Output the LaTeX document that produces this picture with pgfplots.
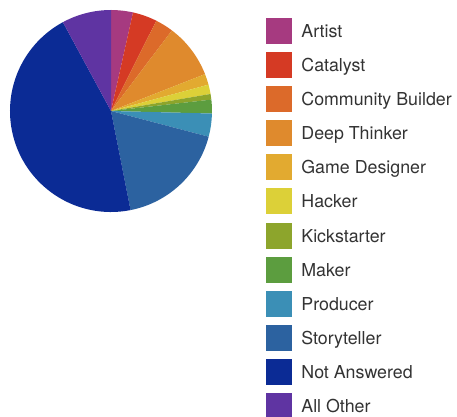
\documentclass[border=0pt]{standalone}
\usepackage{pgfplots}
\usepackage{pgfplotstable}
\pgfplotsset{compat=1.18}
\usepackage{fontspec}
\setmainfont{TeX Gyre Heros}
\definecolor{c0}{HTML}{A63A80}
\definecolor{c1}{HTML}{D53A24}
\definecolor{c2}{HTML}{DC6A2A}
\definecolor{c3}{HTML}{DF8A2D}
\definecolor{c4}{HTML}{E2AA30}
\definecolor{c5}{HTML}{DCD038}
\definecolor{c6}{HTML}{8DA52C}
\definecolor{c7}{HTML}{5C9D3F}
\definecolor{c8}{HTML}{3B8FB6}
\definecolor{c9}{HTML}{2C62A0}
\definecolor{c10}{HTML}{0B2B95}
\definecolor{c11}{HTML}{5F34A2}
\definecolor{txt}{HTML}{333333}
\pgfplotstableread{
label value
Artist 3.5
Catalyst 3.9
{Community Builder} 2.9
{Deep Thinker} 8.75
{Game Designer} 1.75
Hacker 1.5
Kickstarter 0.9
Maker 2.2
Producer 3.7
Storyteller 17.8
{Not Answered} 45.2
{All Other} 7.9
}\piedata
\newcount\k
\begin{document}
\begin{tikzpicture}
\useasboundingbox (0,0) rectangle (457bp,417bp);
\clip (0,0) rectangle (457bp,417bp);
\def\cum{0}%
\k=0
\loop
  \pgfplotstablegetelem{\the\k}{value}\of\piedata
  \pgfmathsetmacro\sa{90-3.6*\cum}%
  \pgfmathsetmacro\cum{\cum+\pgfplotsretval}%
  \pgfmathsetmacro\ea{90-3.6*\cum}%
  \expandafter\xdef\csname sa\the\k\endcsname{\sa}%
  \expandafter\xdef\csname ea\the\k\endcsname{\ea}%
  \advance\k by 1
\ifnum\k<12 \repeat
\begin{axis}[
  x=1bp, y=1bp, xmin=0, xmax=457, ymin=0, ymax=417,
  hide axis, clip=false,
  legend style={at={(axis cs:266,399)}, anchor=north west, draw=none, fill=none,
    inner sep=0pt, outer sep=0pt, row sep=8.7bp, column sep=10bp,
    nodes={inner sep=0pt, outer sep=0pt, text=txt, font=\fontsize{17.8bp}{20bp}\selectfont}},
  legend cell align=left,
  legend image code/.code={\fill[#1] (0bp,-11.5bp) rectangle (25bp,13.5bp);},
]
\pgfplotsinvokeforeach{0,...,11}{
  \fill[c#1] (axis cs:111,306) -- ++(\csname sa#1\endcsname:101bp)
     arc[start angle=\csname sa#1\endcsname, end angle=\csname ea#1\endcsname, radius=101bp] -- cycle;
}
\addlegendimage{c0}\addlegendentry{Artist}
\addlegendimage{c1}\addlegendentry{Catalyst}
\addlegendimage{c2}\addlegendentry{Community Builder}
\addlegendimage{c3}\addlegendentry{Deep Thinker}
\addlegendimage{c4}\addlegendentry{Game Designer}
\addlegendimage{c5}\addlegendentry{Hacker}
\addlegendimage{c6}\addlegendentry{Kickstarter}
\addlegendimage{c7}\addlegendentry{Maker}
\addlegendimage{c8}\addlegendentry{Producer}
\addlegendimage{c9}\addlegendentry{Storyteller}
\addlegendimage{c10}\addlegendentry{Not Answered}
\addlegendimage{c11}\addlegendentry{All Other}
\end{axis}
\end{tikzpicture}
\end{document}
